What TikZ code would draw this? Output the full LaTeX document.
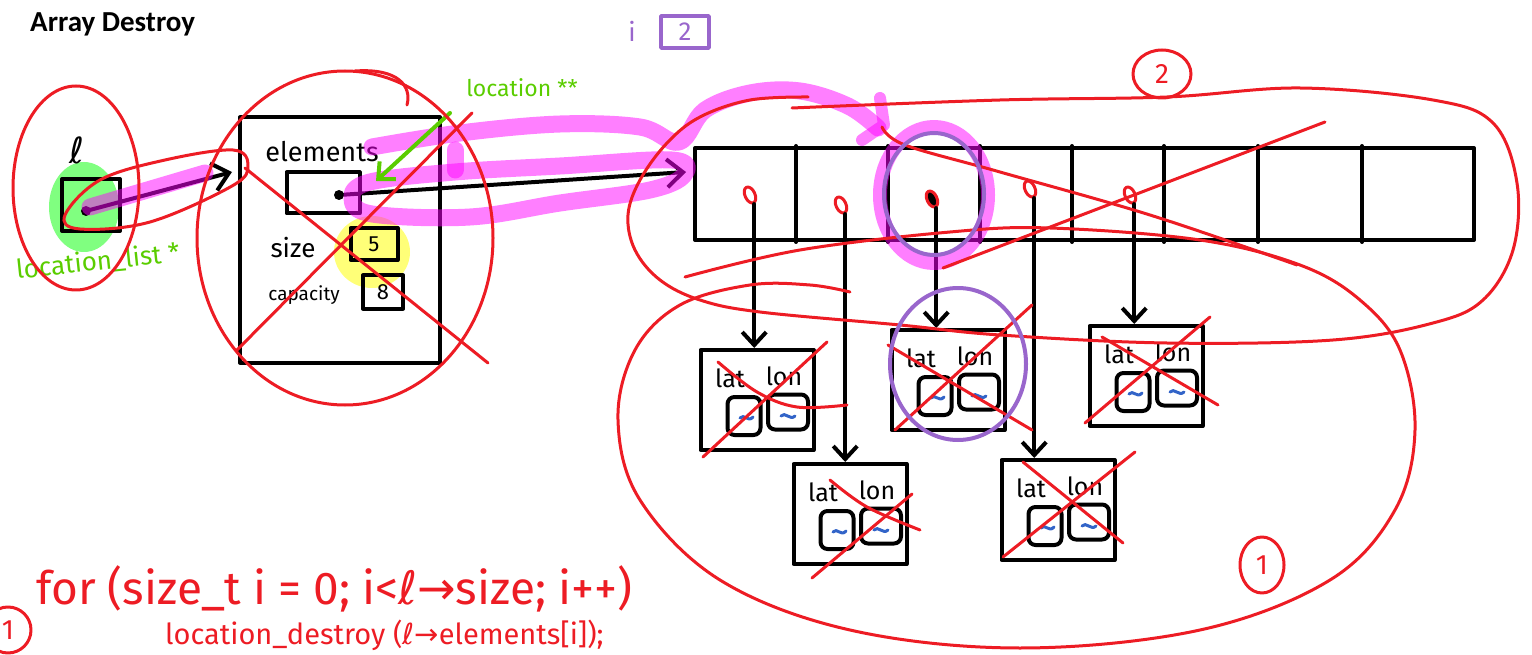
\documentclass[tikz,border=0pt]{standalone}
\usepackage{fontspec}
\setmainfont{Carlito}
\newfontfamily\hand{Fira Sans}
\newfontfamily\sym{DejaVu Sans}
\usetikzlibrary{arrows.meta,shapes.geometric}
\definecolor{pred}{RGB}{237,28,36}
\definecolor{pgreen}{RGB}{90,205,0}
\definecolor{pmag}{RGB}{255,0,255}
\definecolor{ppurple}{RGB}{153,102,204}
\definecolor{pblue}{RGB}{50,100,200}
\definecolor{pyellow}{RGB}{255,255,120}
\definecolor{pgreenhl}{RGB}{128,255,128}
\tikzset{
  ink/.style={draw=black, line width=4pt},
  redpen/.style={draw=pred, line width=3pt},
  purplepen/.style={draw=ppurple, line width=4pt},
  hl/.style={draw=pmag, opacity=0.5, line width=17pt},
  barb/.style={-{Straight Barb[length=16pt,width=28pt]}},
  smallbarb/.style={-{Straight Barb[length=13pt,width=24pt]}},
  hw/.style={font=\hand\fontsize{#1}{#1}\selectfont, inner sep=0pt},
  hw/.default=26,
  locbox/.style={draw, line width=4pt, minimum width=113pt, minimum height=100pt, inner sep=0pt},
  valbox/.style={draw, line width=4pt, inner sep=0pt, rounded corners=7pt},
  reddot/.style={ellipse, draw=pred, line width=3pt, minimum width=10pt, minimum height=17pt, inner sep=0pt, rotate=25},
  locpic/.pic={
    \node[locbox] (-box) at (0,0) {};
    \node[hw=25] (-lat) at (-27,-22) {lat};
    \node[hw=25] (-lon) at (27,-24) {lon};
    \node[valbox, minimum width=33pt, minimum height=38pt] (-vl) at (-13,16) {};
    \node[valbox, minimum width=40pt, minimum height=35pt] (-vr) at (31,12) {};
    \draw[pblue, line width=3pt] (-17,18) .. controls (-13,13) and (-9,23) .. (-4,17);
    \draw[pblue, line width=3pt] (24,16) .. controls (28,11) and (33,21) .. (38,16);
  }
}
\begin{document}
\begin{tikzpicture}[x=1pt,y=-1pt,line cap=round,line join=round]
\useasboundingbox (0,0) rectangle (1532,655);

% ---------- title and purple note
\node[anchor=base west, font=\bfseries\fontsize{29}{31}\selectfont, inner sep=0pt] (title) at (30,32) {Array Destroy};
\node[hw=26, text=ppurple] (ivar) at (632,31) {i};
\node[draw=ppurple, line width=3.5pt, text=ppurple, hw=26, minimum width=48pt, minimum height=32pt] (ival) at (685,32) {2};

% ---------- highlights under the ink
\fill[pgreenhl] (84,207) ellipse [x radius=35pt, y radius=45pt];
\fill[pyellow] (372,252) ellipse [x radius=38pt, y radius=36pt];

% ---------- list pointer l
\node[font=\sym\fontsize{36}{36}\selectfont, inner sep=0pt] (lname) at (77,150) {ℓ};
\node[draw, line width=4pt, minimum width=58pt, minimum height=52pt, inner sep=0pt] (lptr) at (91,205) {};
\node[circle, fill=black, inner sep=0pt, minimum width=6pt, minimum height=10pt] (ldot) at (86,211) {};
\coordinate (sin) at (232,172);
\draw[ink, barb] (ldot) -- (sin);

% ---------- struct
\node[draw, line width=4pt, minimum width=200pt, minimum height=245pt, inner sep=0pt] (struct) at (340,240) {};
\node[hw=27] (elab) at (322,152) {elements};
\node[draw, line width=4pt, minimum width=73pt, minimum height=41pt, inner sep=0pt] (eptr) at (323,193) {};
\node[circle, fill=black, inner sep=0pt, minimum width=6pt, minimum height=10pt] (edot) at (339,195) {};
\node[hw=26] (slab) at (293,248) {size};
\node[draw, line width=4pt, minimum width=47pt, minimum height=32pt, inner sep=0pt, hw=22] (sval) at (374,244) {5};
\node[hw=19] (clab) at (304,295) {capacity};
\node[draw, line width=4pt, minimum width=40pt, minimum height=33pt, inner sep=0pt, hw=22] (cval) at (383,292) {8};

% ---------- array
\node[draw, line width=4pt, minimum width=779pt, minimum height=92pt, inner sep=0pt] (arr) at (1084.5,194) {};
\foreach \x in {796,888,980,1072,1164,1258,1362}
  \draw[ink] (arr.north -| \x,0) -- (arr.south -| \x,0);
\coordinate (ain) at (686,172);
\draw[ink, barb] (edot) -- (ain);

% ---------- location structs
\pic (A) at (757,400) {locpic};
\pic (B) at (948,380) {locpic};
\pic (C) at (1146,376) {locpic};
\pic (D) at (850,514) {locpic};
\pic (E) at (1058,510) {locpic};

\node[reddot] (d0) at (750,195) {};
\node[reddot] (d1) at (841,205) {};
\node[reddot, fill=black] (d2) at (932,199) {};
\node[reddot] (d3) at (1030,189) {};
\node[reddot] (d4) at (1130,195) {};
\draw[ink, smallbarb] (d0.south) -- (d0.south |- A-box.north);
\draw[ink, smallbarb] (d1.south) -- (d1.south |- D-box.north);
\draw[ink, smallbarb] (d2.south) -- (d2.south |- B-box.north);
\draw[ink, smallbarb] (d3.south) -- (d3.south |- E-box.north);
\draw[ink, smallbarb] (d4.south) -- (d4.south |- C-box.north);

% ---------- magenta highlighter
\draw[hl] (90,207) -- (205,173);
\draw[hl] plot[smooth, tension=0.6] coordinates {(372,147) (460,133) (560,124) (640,127) (679,142) (705,110) (750,93) (800,91) (848,106) (878,128)};
\draw[hl] (455,150) -- (455,170);
\draw[hl] plot[smooth cycle, tension=0.6] coordinates {(455,172) (560,166) (672,160) (684,175) (650,190) (560,203) (470,217) (372,214) (352,198) (370,182)};
\draw[hl, line width=12pt] (880,98) -- (884,125) -- (862,140);
\draw[pmag, opacity=0.5, line width=14pt] (934,195) ellipse [x radius=54pt, y radius=68pt];

% ---------- green notes
\node[hw=26, text=pgreen, rotate=6] (lltype) at (98,262) {location\_list *};
\node[hw=23, text=pgreen] (eltype) at (522,88) {location **};
\coordinate (gfrom) at (450,113);
\coordinate (gto) at (376,181);
\draw[pgreen, line width=4pt, smallbarb] (gfrom) -- (gto);

% ---------- red marks, left side
\draw[redpen] (76,188) ellipse [x radius=63pt, y radius=102pt];
\draw[redpen] plot[smooth cycle, tension=0.6] coordinates {(65,215) (100,180) (165,160) (233,150) (248,166) (232,186) (150,222) (80,229)};
\draw[redpen] (345,238) ellipse [x radius=148pt, y radius=167pt];
\draw[redpen] (355,71) .. controls (398,68) and (412,86) .. (407,105);
\draw[redpen] (237,350) -- (472,113);
\draw[redpen] (245,168) -- (488,363);

% ---------- red loop 2 around the array
\draw[redpen] plot[smooth, tension=0.6] coordinates {(808,97) (750,100) (700,117) (667,143) (640,180) (628,215) (635,250) (660,280) (700,300) (760,312) (900,325) (1000,335) (1167,343) (1333,340) (1433,323) (1483,300) (1513,250) (1517,183) (1493,123) (1433,100) (1300,88) (1167,97) (1000,100) (792,108)};
\node[ellipse, draw=pred, line width=3pt, minimum width=58pt, minimum height=48pt, text=pred, hw=28] (two) at (1162,74) {2};
\draw[redpen] plot[smooth, tension=0.6] coordinates {(882,127) (905,145) (1000,172) (1150,215) (1297,265)};
\draw[redpen] (943,268) -- (1325,122);

% ---------- red loop 1 around the location structs
\draw[redpen] plot[smooth, tension=0.6] coordinates {(685,277) (800,250) (950,232) (1050,228) (1200,240) (1300,265) (1360,300) (1400,350) (1415,430) (1395,510) (1330,580) (1200,630) (1020,648) (850,630) (720,580) (640,500) (618,420) (635,350) (680,305) (750,285) (810,285) (850,292)};
\node[ellipse, draw=pred, line width=3pt, minimum width=44pt, minimum height=56pt, text=pred, hw=28] (one) at (1262,565) {1};

% crosses over the location structs
\draw[redpen] (703,457) -- (827,342);
\draw[redpen] plot[smooth, tension=0.6] coordinates {(718,362) (757,392) (797,407) (847,405)};
\draw[redpen] (812,578) -- (912,494);
\draw[redpen] plot[smooth, tension=0.6] coordinates {(830,480) (867,507) (920,530)};
\draw[redpen] (895,430) -- (1032,305);
\draw[redpen] (888,345) -- (1032,430);
\draw[redpen] (1085,423) -- (1210,317);
\draw[redpen] (1102,337) -- (1218,405);
\draw[redpen] (1003,557) -- (1135,452);
\draw[redpen] (1023,462) -- (1123,543);

% ---------- purple marks
\draw[purplepen] (934,194) ellipse [x radius=50pt, y radius=61pt];
\draw[purplepen] (958,364) ellipse [x radius=68pt, y radius=76pt];

% ---------- code
\node[anchor=base west, text=pred, hw=46] (code1) at (36,604) {for (size\_t i = 0; i<{\sym ℓ→}size; i++)};
\node[anchor=base west, text=pred, hw=29] (code2) at (165,644) {location\_destroy ({\sym ℓ→}elements[i]);};
\node[circle, draw=pred, line width=3pt, minimum size=46pt, text=pred, hw=28] (onec) at (8,630) {1};
\end{tikzpicture}
\end{document}
